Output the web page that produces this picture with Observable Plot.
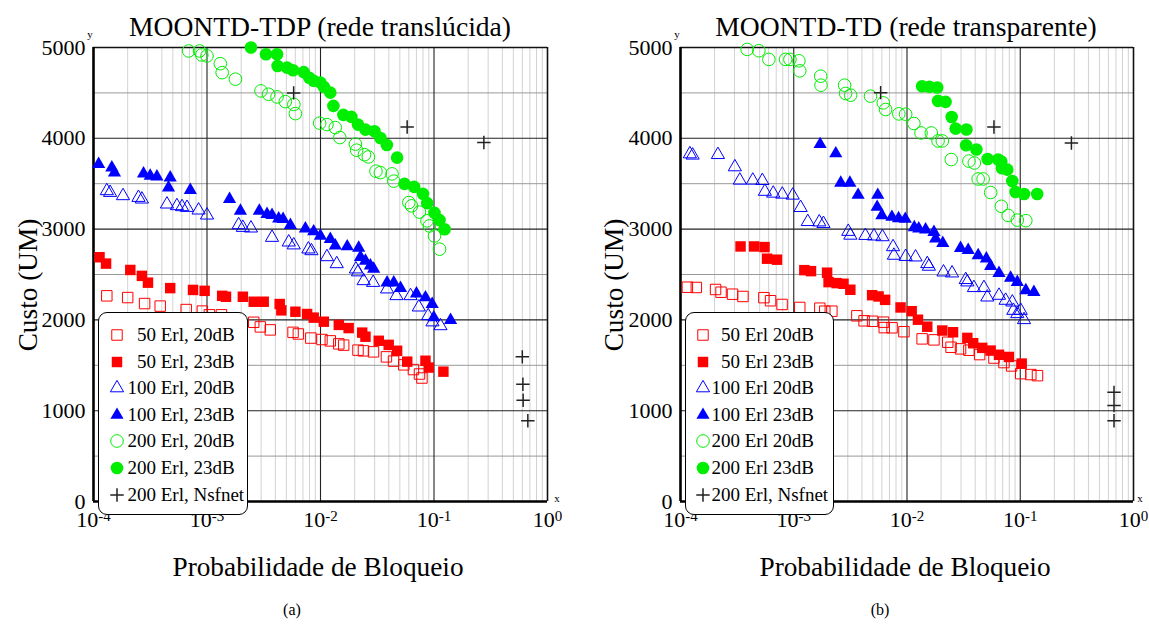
<!DOCTYPE html>
<html><head><meta charset="utf-8">
<script src="https://cdn.jsdelivr.net/npm/d3@7"></script>
<script src="https://cdn.jsdelivr.net/npm/@observablehq/plot@0.6"></script>
<style>
body{margin:0;background:#fff}
#root{position:relative;width:1149px;height:626px;overflow:hidden;font-family:"Liberation Serif","Times New Roman",serif;color:#000;background:#fff}
.abs{position:absolute;white-space:pre}
</style></head>
<body><div id="root"></div>
<script>
// ---------------- data: panel (a) MOONTD-TDP ----------------
const tdp_50_20 = [[1.31e-4,2265],[2.00e-4,2246],[2.82e-4,2180],[3.87e-4,2152],[6.56e-4,2114],[9.10e-4,2097],[1.05e-3,2056],[1.34e-3,2056],[2.58e-3,1974],[2.95e-3,1923],[3.61e-3,1890],[5.73e-3,1863],[6.38e-3,1845],[8.22e-3,1800],[1.03e-2,1784],[1.22e-2,1769],[1.45e-2,1736],[1.60e-2,1722],[2.14e-2,1667],[2.39e-2,1659],[2.93e-2,1648],[3.81e-2,1593],[4.40e-2,1546],[5.42e-2,1505],[6.59e-2,1453],[7.45e-2,1404],[7.83e-2,1360]];
const tdp_50_23 = [[1.13e-4,2690],[1.29e-4,2620],[2.11e-4,2550],[2.67e-4,2485],[3.02e-4,2410],[4.74e-4,2350],[7.53e-4,2330],[9.53e-4,2320],[1.36e-3,2265],[1.47e-3,2255],[2.07e-3,2255],[2.58e-3,2200],[3.16e-3,2200],[4.37e-3,2175],[4.52e-3,2105],[6.01e-3,2090],[7.62e-3,2065],[8.71e-3,2025],[1.07e-2,1980],[1.45e-2,1945],[1.77e-2,1910],[2.33e-2,1860],[2.49e-2,1815],[3.26e-2,1770],[3.99e-2,1725],[4.73e-2,1660],[5.81e-2,1540],[8.41e-2,1550],[8.99e-2,1475],[1.21e-1,1430]];
const tdp_100_20 = [[1.31e-4,3421],[1.40e-4,3402],[1.82e-4,3366],[2.49e-4,3347],[2.67e-4,3329],[4.44e-4,3274],[5.43e-4,3256],[6.03e-4,3245],[6.67e-4,3237],[8.43e-4,3208],[1.00e-3,3153],[1.90e-3,3046],[2.07e-3,3017],[2.44e-3,3010],[3.74e-3,2907],[5.25e-3,2856],[5.81e-3,2824],[7.82e-3,2779],[8.32e-3,2760],[1.14e-2,2694],[1.39e-2,2617],[2.05e-2,2559],[2.14e-2,2527],[2.40e-2,2430],[2.91e-2,2411],[3.86e-2,2339],[4.67e-2,2265],[6.21e-2,2265],[7.35e-2,2140],[8.89e-2,2045],[9.70e-2,1976],[1.14e-1,1934]];
const tdp_100_23 = [[1.11e-4,3715],[1.45e-4,3677],[1.53e-4,3622],[2.76e-4,3611],[3.16e-4,3586],[3.62e-4,3578],[4.74e-4,3567],[4.58e-4,3457],[7.13e-4,3428],[1.58e-3,3329],[1.97e-3,3201],[2.89e-3,3201],[3.38e-3,3164],[3.74e-3,3153],[4.28e-3,3116],[4.68e-3,3109],[5.43e-3,3043],[7.36e-3,3005],[8.71e-3,2973],[9.98e-3,2925],[1.22e-2,2889],[1.35e-2,2818],[1.72e-2,2808],[2.17e-2,2793],[2.25e-2,2692],[2.49e-2,2650],[2.75e-2,2598],[2.94e-2,2562],[3.86e-2,2411],[4.42e-2,2411],[5.07e-2,2350],[7.01e-2,2290],[8.41e-2,2246],[9.64e-2,2173],[9.96e-2,2026],[1.40e-1,1997]];
const tdp_200_20 = [[6.89e-4,4962],[8.60e-4,4962],[9.00e-4,4918],[1.00e-3,4907],[1.31e-3,4822],[1.36e-3,4723],[1.78e-3,4651],[2.99e-3,4522],[3.49e-3,4485],[4.14e-3,4456],[4.90e-3,4404],[5.82e-3,4373],[6.01e-3,4272],[9.84e-3,4167],[1.14e-2,4151],[1.35e-2,4118],[1.48e-2,4008],[2.03e-2,3936],[2.08e-2,3869],[2.44e-2,3820],[2.64e-2,3795],[3.08e-2,3638],[3.37e-2,3622],[4.27e-2,3608],[4.42e-2,3528],[6.00e-2,3292],[6.34e-2,3256],[7.45e-2,3187],[8.67e-2,3091],[9.12e-2,3035],[1.01e-1,2925],[1.12e-1,2779]];
const tdp_200_23 = [[2.44e-3,5000],[3.31e-3,4926],[4.14e-3,4926],[4.19e-3,4797],[5.07e-3,4778],[5.73e-3,4750],[7.11e-3,4729],[7.98e-3,4665],[8.71e-3,4632],[9.98e-3,4613],[1.07e-2,4566],[1.22e-2,4503],[1.30e-2,4357],[1.59e-2,4258],[1.87e-2,4236],[2.14e-2,4151],[2.49e-2,4096],[2.99e-2,4078],[3.37e-2,4004],[3.84e-2,3927],[4.73e-2,3787],[5.50e-2,3498],[6.68e-2,3465],[8.00e-2,3388],[8.71e-2,3286],[1.01e-1,3179],[1.12e-1,3099],[1.24e-1,2999]];
const tdp_nsf = [[5.8e-3,4500],[5.8e-2,4125],[2.75e-1,3953],[6.0e-1,1593],[6.07e-1,1292],[6.1e-1,1116],[6.71e-1,889]];

// ---------------- data: panel (b) MOONTD-TD ----------------
const td_50_20 = [[1.15e-4,2360],[1.38e-4,2357],[2.04e-4,2335],[2.28e-4,2305],[2.88e-4,2283],[3.56e-4,2258],[5.45e-4,2245],[6.24e-4,2211],[7.89e-4,2170],[1.13e-3,2137],[1.70e-3,2129],[1.88e-3,2096],[2.17e-3,2096],[3.61e-3,2045],[4.18e-3,1990],[4.97e-3,1985],[6.21e-3,1975],[6.30e-3,1915],[7.38e-3,1913],[9.40e-3,1870],[1.36e-2,1791],[1.73e-2,1780],[2.29e-2,1754],[2.45e-2,1699],[2.97e-2,1681],[3.52e-2,1666],[4.38e-2,1618],[5.86e-2,1580],[7.18e-2,1530],[8.39e-2,1493],[1.01e-1,1408],[1.24e-1,1398],[1.42e-1,1386]];
const td_50_23 = [[3.39e-4,2809],[4.46e-4,2809],[5.52e-4,2802],[5.81e-4,2674],[7.11e-4,2663],[1.24e-3,2548],[1.42e-3,2537],[1.97e-3,2520],[2.03e-3,2416],[2.39e-3,2405],[2.75e-3,2398],[3.16e-3,2332],[4.92e-3,2272],[5.61e-3,2258],[6.41e-3,2221],[8.77e-3,2137],[1.10e-2,2096],[1.25e-2,2002],[1.51e-2,1925],[2.05e-2,1883],[2.55e-2,1864],[3.41e-2,1802],[3.84e-2,1743],[4.62e-2,1692],[5.48e-2,1662],[6.49e-2,1616],[7.94e-2,1592],[1.03e-1,1519]];
const td_100_20 = [[1.21e-4,3827],[1.28e-4,3813],[2.14e-4,3819],[3.02e-4,3684],[3.34e-4,3537],[4.35e-4,3537],[5.28e-4,3533],[5.56e-4,3414],[6.59e-4,3394],[7.92e-4,3383],[9.79e-4,3372],[1.15e-3,3236],[1.33e-3,3081],[1.68e-3,3077],[1.83e-3,3060],[3.03e-3,2973],[3.16e-3,2931],[4.29e-3,2928],[5.11e-3,2922],[6.07e-3,2914],[7.53e-3,2804],[7.66e-3,2710],[9.73e-3,2697],[1.19e-2,2691],[1.51e-2,2618],[1.56e-2,2589],[2.10e-2,2526],[2.50e-2,2515],[3.30e-2,2442],[3.41e-2,2416],[3.90e-2,2354],[4.78e-2,2354],[5.12e-2,2250],[6.49e-2,2269],[7.43e-2,2214],[8.51e-2,2195],[8.69e-2,2103],[1.01e-1,2103],[9.42e-2,2067],[1.08e-1,2001]];
const td_100_23 = [[1.71e-3,3934],[2.35e-3,3832],[2.60e-3,3508],[3.13e-3,3508],[3.70e-3,3375],[5.52e-3,3375],[5.45e-3,3243],[6.00e-3,3151],[7.36e-3,3133],[8.43e-3,3118],[9.66e-3,3111],[1.16e-2,3019],[1.27e-2,3005],[1.46e-2,2994],[1.73e-2,2967],[1.79e-2,2894],[2.07e-2,2846],[2.97e-2,2790],[3.47e-2,2768],[4.25e-2,2710],[5.02e-2,2674],[5.48e-2,2592],[6.49e-2,2515],[8.22e-2,2462],[9.42e-2,2416],[1.12e-1,2324],[1.32e-1,2305]];
const td_200_20 = [[3.88e-4,4979],[4.92e-4,4964],[6.03e-4,4869],[8.47e-4,4869],[9.25e-4,4869],[1.11e-3,4853],[1.13e-3,4743],[1.73e-3,4684],[1.74e-3,4585],[2.81e-3,4585],[2.87e-3,4494],[3.18e-3,4475],[4.76e-3,4464],[6.18e-3,4390],[6.47e-3,4317],[8.47e-3,4269],[9.73e-3,4265],[1.15e-2,4163],[1.33e-2,4059],[1.64e-2,4059],[1.88e-2,3971],[2.05e-2,3971],[2.46e-2,3766],[3.52e-2,3749],[3.93e-2,3728],[4.25e-2,3552],[4.70e-2,3552],[5.48e-2,3403],[6.81e-2,3251],[7.82e-2,3151],[9.42e-2,3099],[1.12e-1,3093]];
const td_200_23 = [[1.36e-2,4574],[1.58e-2,4566],[1.85e-2,4560],[1.88e-2,4412],[2.19e-2,4401],[2.48e-2,4235],[2.69e-2,4107],[3.35e-2,4097],[3.33e-2,3923],[4.10e-2,3877],[5.15e-2,3772],[6.38e-2,3766],[6.80e-2,3744],[6.90e-2,3671],[7.69e-2,3655],[8.51e-2,3530],[9.10e-2,3408],[1.08e-1,3386],[1.41e-1,3386]];
const td_nsf = [[5.85e-3,4503],[5.86e-2,4125],[2.83e-1,3949],[6.73e-1,1202],[6.73e-1,1056],[6.73e-1,890]];

// ---------------- labels & ticks ----------------
const xTickValues = [1e-4, 1e-3, 1e-2, 1e-1, 1];
const xTickLabels = ["10^-4", "10^-3", "10^-2", "10^-1", "10^0"];
const yTickValues = [0, 1000, 2000, 3000, 4000, 5000];
const yHalfValues = [500, 1500, 2500, 3500, 4500];
const legendA = ["50 Erl, 20dB", "50 Erl, 23dB", "100 Erl, 20dB", "100 Erl, 23dB", "200 Erl, 20dB", "200 Erl, 23dB", "200 Erl, Nsfnet"];
const legendB = ["50 Erl 20dB", "50 Erl 23dB", "100 Erl 20dB", "100 Erl 23dB", "200 Erl 20dB", "200 Erl 23dB", "200 Erl, Nsfnet"];
const titles = ["MOONTD-TDP (rede translúcida)", "MOONTD-TD (rede transparente)"];
const xLabel = "Probabilidade de Bloqueio";
const yLabel = "Custo (UM)";
const captions = ["(a)", "(b)"];

// ---------------- styles ----------------
const styles = [
  {symbol: "square",   r: 5.9, fill: "none",    stroke: "#ff0000", sw: 1},
  {symbol: "square",   r: 5.9, fill: "#ff0000", stroke: "none",    sw: 0},
  {symbol: "triangle", r: 4.9, fill: "none",    stroke: "#0000ff", sw: 1},
  {symbol: "triangle", r: 4.9, fill: "#0000ff", stroke: "none",    sw: 0},
  {symbol: "circle",   r: 6.3, fill: "none",    stroke: "#00ee00", sw: 1},
  {symbol: "circle",   r: 6.3, fill: "#00ee00", stroke: "none",    sw: 0},
  {symbol: "plus",     r: 4.4, fill: "none",    stroke: "#222",    sw: 1.5}
];

const root = document.getElementById("root");
const minorX = [];
for (const d of [1e-4, 1e-3, 1e-2, 1e-1]) for (let k = 2; k <= 9; k++) minorX.push(k * d);

function label(d) {
  const i = xTickValues.findIndex(v => Math.abs(Math.log10(v) - Math.log10(d)) < 1e-6);
  return i >= 0 ? xTickLabels[i] : "";
}

function makePanel(left, width, seriesList) {
  const marks = [
    Plot.ruleX(minorX, {stroke: "#d2d2d2", strokeWidth: 1}),
    Plot.ruleY(yHalfValues, {stroke: "#999", strokeWidth: 1}),
    Plot.ruleX([1e-3, 1e-2, 1e-1], {stroke: "#222", strokeWidth: 1.1}),
    Plot.ruleY([1000, 2000, 3000, 4000], {stroke: "#222", strokeWidth: 1.1}),
    Plot.ruleY([5000], {stroke: "#111", strokeWidth: 1.6}),
    Plot.ruleX([1], {stroke: "#111", strokeWidth: 1.6}),
    Plot.ruleX([1e-4], {stroke: "#000", strokeWidth: 2.6}),
    Plot.ruleY([0], {stroke: "#000", strokeWidth: 2.6})
  ];
  seriesList.forEach((data, i) => {
    const s = styles[i];
    marks.push(Plot.dot(data, {x: d => d[0], y: d => d[1], symbol: s.symbol, r: s.r,
      fill: s.fill, stroke: s.stroke, strokeWidth: s.sw}));
  });
  const svg = Plot.plot({
    width, height: 540,
    marginLeft: 93, marginRight: 27, marginTop: 47, marginBottom: 39,
    style: {fontFamily: "'Liberation Serif', 'Times New Roman', serif", fontSize: "22px", background: "transparent", overflow: "visible", color: "#000"},
    x: {type: "log", domain: [1e-4, 1], ticks: xTickValues, tickFormat: label, tickSize: 0, tickPadding: 10, label: null},
    y: {domain: [0, 5000], ticks: yTickValues, tickFormat: d => String(d), tickSize: 0, tickPadding: 8, label: null},
    marks
  });
  svg.style.position = "absolute";
  svg.style.left = left + "px";
  svg.style.top = "0px";
  // superscript exponents on x tick labels
  svg.querySelectorAll("text").forEach(t => {
    const s = t.textContent;
    if (s.includes("^")) {
      const [base, exp] = s.split("^");
      while (t.firstChild) t.removeChild(t.firstChild);
      const ns = "http://www.w3.org/2000/svg";
      const a = document.createElementNS(ns, "tspan"); a.textContent = base;
      const b = document.createElementNS(ns, "tspan"); b.textContent = exp;
      b.setAttribute("dy", "-6"); b.setAttribute("font-size", "15");
      t.appendChild(a); t.appendChild(b);
    }
  });
  root.appendChild(svg);
}

function text(str, cx, cy, size, extra) {
  const el = document.createElement("div");
  el.className = "abs";
  el.textContent = str;
  el.style.left = cx + "px"; el.style.top = cy + "px";
  el.style.fontSize = size + "px"; el.style.lineHeight = size + "px";
  el.style.transform = "translate(-50%,-50%)" + (extra || "");
  root.appendChild(el);
}

function symPath(name, r) {
  const t = {square: d3.symbolSquare, triangle: d3.symbolTriangle, circle: d3.symbolCircle, plus: d3.symbolPlus}[name];
  return d3.symbol(t, Math.PI * r * r)();
}

function legend(box, symX, numEnd, rowY0, labels) {
  const b = document.createElement("div");
  b.className = "abs";
  Object.assign(b.style, {left: box[0] + "px", top: box[1] + "px", width: box[2] + "px", height: box[3] + "px",
    border: "1.5px solid #000", borderRadius: "9px", background: "#fff", boxSizing: "border-box"});
  root.appendChild(b);
  labels.forEach((lab, i) => {
    const y = rowY0 + i * 26.6;
    const s = styles[i];
    const ns = "http://www.w3.org/2000/svg";
    const sv = document.createElementNS(ns, "svg");
    sv.setAttribute("width", 20); sv.setAttribute("height", 20);
    sv.style.position = "absolute"; sv.style.left = (symX - 10) + "px"; sv.style.top = (y - 10) + "px";
    sv.style.overflow = "visible";
    const p = document.createElementNS(ns, "path");
    p.setAttribute("d", symPath(s.symbol, s.r));
    p.setAttribute("transform", "translate(10,10)");
    p.setAttribute("fill", s.fill); p.setAttribute("stroke", s.stroke); p.setAttribute("stroke-width", s.sw);
    sv.appendChild(p);
    root.appendChild(sv);
    const sp = lab.indexOf(" ");
    const num = document.createElement("div");
    num.className = "abs"; num.textContent = lab.slice(0, sp);
    Object.assign(num.style, {left: (numEnd - 40) + "px", width: "40px", textAlign: "right", top: (y - 11) + "px", fontSize: "19px", lineHeight: "22px"});
    root.appendChild(num);
    const rest = document.createElement("div");
    rest.className = "abs"; rest.textContent = lab.slice(sp);
    Object.assign(rest.style, {left: numEnd + "px", top: (y - 11) + "px", fontSize: "19px", lineHeight: "22px"});
    root.appendChild(rest);
  });
}

// Panel (a)
makePanel(0, 574, [tdp_50_20, tdp_50_23, tdp_100_20, tdp_100_23, tdp_200_20, tdp_200_23, tdp_nsf]);
// Panel (b)
makePanel(587, 573, [td_50_20, td_50_23, td_100_20, td_100_23, td_200_20, td_200_23, td_nsf]);

text(titles[0], 320, 27, 27.6);
text(titles[1], 906, 27, 27.6);
text(xLabel, 318, 568, 27.3);
text(xLabel, 905, 568, 27.3);
text(yLabel, 29, 285, 27.3, " rotate(-90deg)");
text(yLabel, 615, 285, 27.3, " rotate(-90deg)");
text(captions[0], 292, 610, 16);
text(captions[1], 880, 610, 16);
text("y", 90, 34, 11);
text("y", 677, 34, 11);
text("x", 557, 498, 11);
text("x", 1140, 498, 11);

legend([98, 312, 150, 203], 116.7, 156, 335, legendA);
legend([685, 312, 149, 203], 702.7, 740, 335, legendB);
</script>
</body></html>
